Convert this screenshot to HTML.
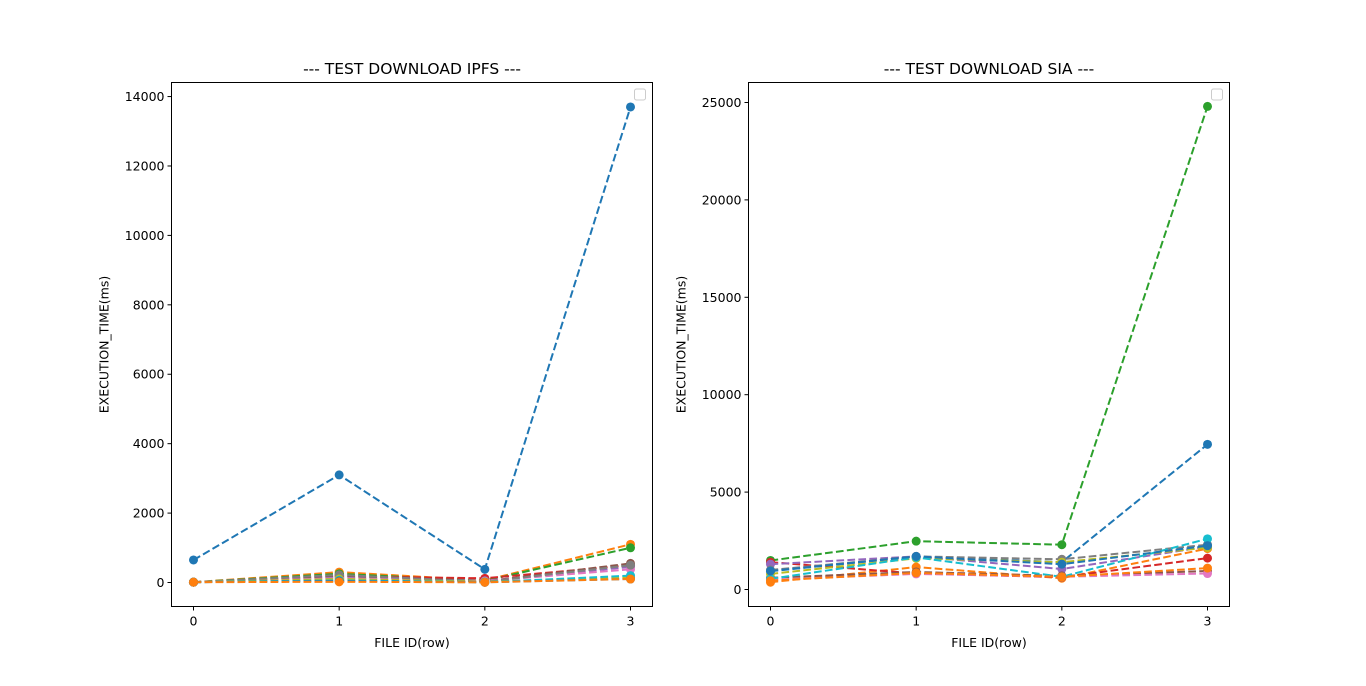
<!DOCTYPE html>
<html><head><meta charset="utf-8"><style>
body{margin:0;background:#fff;width:1366px;height:681px;overflow:hidden}
svg{font-family:"DejaVu Sans","Liberation Sans",sans-serif}
</style></head><body>
<svg id="fig" width="1366" height="681" xmlns="http://www.w3.org/2000/svg"></svg>
<script>
const categories = [0, 1, 2, 3];
const colors = ['#1f77b4','#ff7f0e','#2ca02c','#d62728','#9467bd','#8c564b','#e377c2','#7f7f7f','#bcbd22','#17becf'];
const ipfsSeries = [
  [650, 3100, 380, 13700],
  [10, 300, 60, 1100],
  [10, 250, 50, 1000],
  [10, 180, 120, 500],
  [10, 150, 50, 450],
  [10, 200, 30, 550],
  [10, 120, 40, 380],
  [10, 220, 20, 500],
  [10, 100, 20, 150],
  [10, 60, 10, 200],
  [10, 40, 5, 100],
  [10, 20, 5, 100]
];
const siaSeries = [
  [940, 1690, 1400, 7450],
  [375, 1150, 580, 2100],
  [1490, 2480, 2300, 24800],
  [1400, 820, 630, 1610],
  [1300, 1700, 1050, 2200],
  [600, 900, 700, 950],
  [500, 800, 650, 820],
  [1000, 1700, 1550, 2300],
  [800, 1600, 1400, 2150],
  [550, 1650, 650, 2600],
  [950, 1700, 1300, 2250],
  [450, 850, 650, 1100]
];
const ipfsTicks = [0, 2000, 4000, 6000, 8000, 10000, 12000, 14000];
const siaTicks = [0, 5000, 10000, 15000, 20000, 25000];

const NS = 'http://www.w3.org/2000/svg';
const fig = document.getElementById('fig');
function mk(tag, attrs, parent, text){
  const e = document.createElementNS(NS, tag);
  for (const k in attrs) e.setAttribute(k, attrs[k]);
  if (text !== undefined) e.textContent = text;
  (parent || fig).appendChild(e);
  return e;
}
function panel(key, x0, x1, y0, y1, ymin, ymax, title, series, ticks){
  const g = mk('g', {});
  
  
  const xs = v => x0 + (v + 0.151) / 3.302 * (x1 - x0);
  const ys = v => y1 - (v - ymin) / (ymax - ymin) * (y1 - y0);
  const t = mk('text', {x: (x0 + x1) / 2, y: 74, 'text-anchor': 'middle', 'font-size': 15.5, fill: '#000'}, g, title);
  
  
  categories.forEach(c => {
    const x = xs(c);
    mk('line', {x1: x, x2: x, y1: y1, y2: y1 + 4, stroke: '#000', 'stroke-width': 1}, g);
    const l = mk('text', {x: x, y: y1 + 19, 'text-anchor': 'middle', 'font-size': 12.5, fill: '#000'}, g, String(c));
    
    
  });
  ticks.forEach(v => {
    const y = ys(v);
    mk('line', {x1: x0 - 4, x2: x0, y1: y, y2: y, stroke: '#000', 'stroke-width': 1}, g);
    const l = mk('text', {x: x0 - 7, y: y + 4.5, 'text-anchor': 'end', 'font-size': 12.5, fill: '#000'}, g, String(v));
    
    
  });
  const xl = mk('text', {x: (x0 + x1) / 2, y: 647, 'text-anchor': 'middle', 'font-size': 12.5, fill: '#000'}, g, 'FILE ID(row)');
  
  
  const yx = x0 - 63;
  const yl = mk('text', {x: yx, y: (y0 + y1) / 2, 'text-anchor': 'middle', 'font-size': 12.5, fill: '#000', transform: `rotate(-90 ${yx} ${(y0 + y1) / 2})`}, g, 'EXECUTION_TIME(ms)');
  
  
  series.forEach((s, i) => {
    const col = colors[i % 10];
    const pts = s.map((v, j) => xs(categories[j]).toFixed(1) + ',' + ys(v).toFixed(1)).join(' ');
    const pl = mk('polyline', {points: pts, fill: 'none', stroke: col, 'stroke-width': 2, 'stroke-dasharray': '7.7,3.3'}, g);
    
    
    s.forEach((v, j) => {
      const c = mk('circle', {cx: xs(categories[j]), cy: ys(v), r: 4.5, fill: col}, g);
      
      
    });
  });
  const fr = mk('rect', {x: x0, y: y0, width: x1 - x0, height: y1 - y0, fill: 'none', stroke: '#000', 'stroke-width': 1}, g);
  
  
  const lg = mk('rect', {x: x1 - 18, y: 89, width: 11, height: 11, rx: 2, fill: '#fff', stroke: '#ccc', 'stroke-width': 1}, g);
  
  
}
panel('ipfs', 171.5, 652.5, 82.5, 606.5, -691, 14405, '--- TEST DOWNLOAD IPFS ---', ipfsSeries, ipfsTicks);
panel('sia', 748.5, 1229.5, 82.5, 606.5, -873, 26026, '--- TEST DOWNLOAD SIA ---', siaSeries, siaTicks);
</script>
</body></html>
